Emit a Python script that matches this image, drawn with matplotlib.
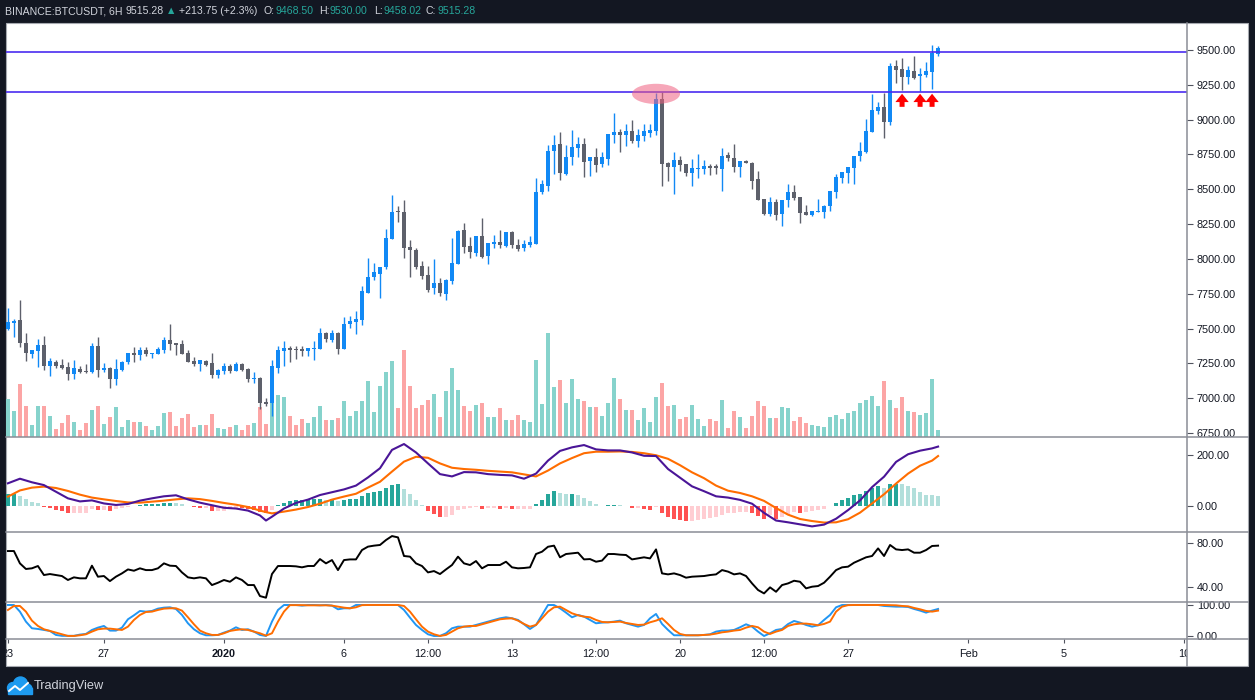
import numpy as np
import matplotlib.pyplot as plt
from matplotlib.patches import Rectangle, Ellipse, Circle

plt.rcParams['font.family'] = ['Liberation Sans', 'DejaVu Sans']

# ---- BINANCE:BTCUSDT 6H candles, Dec 23 2019 00:00 -> Jan 30 2020 18:00 ----
day0 = -9          # first bar, in days from Jan 1 2020
bar_days = 0.25    # 6H

opens = [
    7498, 7541, 7560, 7398, 7319, 7340, 7381, 7232, 7259, 7237,
    7223, 7170, 7208, 7194, 7187, 7374, 7204, 7216, 7139, 7201,
    7256, 7323, 7309, 7345, 7319, 7319, 7347, 7417, 7395, 7388,
    7323, 7268, 7244, 7268, 7251, 7168, 7196, 7230, 7194, 7244,
    7208, 7139, 7144, 6971, 6964, 7218, 7338, 7359, 7352, 7352,
    7338, 7352, 7352, 7467, 7417, 7467, 7352, 7532, 7546, 7563,
    7757, 7871, 7893, 7939, 8140, 8343, 8336, 8085, 8063, 7948,
    7883, 7790, 7826, 7750, 7843, 7965, 8207, 8092, 8044, 8164,
    8023, 8109, 8121, 8094, 8193, 8102, 8078, 8102, 8109, 8480,
    8523, 8775, 8825, 8609, 8731, 8796, 8825, 8703, 8731, 8681,
    8717, 8890, 8911, 8890, 8918, 8846, 8882, 8904, 8918, 9150,
    8691, 8662, 8710, 8681, 8617, 8645, 8645, 8667, 8667, 8645,
    8746, 8724, 8660, 8703, 8691, 8573, 8430, 8322, 8408, 8322,
    8422, 8480, 8444, 8336, 8315, 8336, 8336, 8379, 8480, 8583,
    8619, 8655, 8738, 8767, 8911, 9062, 9091, 8983, 9385, 9364,
    9308, 9349, 9311, 9320, 9344, 9468.50]
highs = [
    7650, 7568, 7704, 7469, 7345, 7424, 7448, 7285, 7273, 7280,
    7259, 7273, 7228, 7244, 7398, 7441, 7251, 7225, 7280, 7266,
    7323, 7369, 7369, 7369, 7323, 7369, 7438, 7534, 7395, 7417,
    7347, 7297, 7273, 7273, 7326, 7206, 7251, 7244, 7259, 7251,
    7216, 7187, 7151, 7000, 7273, 7374, 7410, 7374, 7374, 7374,
    7359, 7410, 7503, 7474, 7489, 7474, 7582, 7589, 7625, 7804,
    8003, 7969, 7939, 8213, 8458, 8379, 8422, 8135, 8075, 7984,
    7948, 7999, 7861, 7857, 8150, 8207, 8257, 8157, 8164, 8293,
    8114, 8171, 8207, 8193, 8200, 8142, 8135, 8164, 8581, 8564,
    8818, 8890, 8911, 8818, 8925, 8875, 8868, 8731, 8796, 8767,
    8897, 9048, 8933, 8969, 8997, 8933, 8969, 8969, 9190, 9195,
    8698, 8767, 8739, 8681, 8717, 8753, 8710, 8681, 8681, 8796,
    8767, 8825, 8703, 8710, 8696, 8631, 8430, 8444, 8430, 8422,
    8537, 8530, 8444, 8387, 8343, 8430, 8387, 8487, 8609, 8624,
    8659, 8738, 8839, 9004, 9184, 9126, 9191, 9404, 9428, 9440,
    9385, 9457, 9371, 9414, 9536, 9530.00]
lows = [
    7490, 7441, 7364, 7268, 7285, 7225, 7201, 7160, 7213, 7208,
    7127, 7134, 7182, 7182, 7182, 7153, 7187, 7074, 7096, 7194,
    7244, 7259, 7273, 7302, 7287, 7316, 7321, 7347, 7311, 7316,
    7259, 7230, 7194, 7230, 7144, 7144, 7172, 7180, 7194, 7194,
    7115, 7110, 6921, 6943, 6871, 7180, 7230, 7261, 7280, 7302,
    7302, 7273, 7352, 7402, 7402, 7316, 7352, 7503, 7460, 7524,
    7757, 7847, 7719, 7926, 8140, 8264, 8006, 7870, 7931, 7857,
    7765, 7746, 7737, 7706, 7819, 7965, 8044, 8008, 8023, 8008,
    7965, 8080, 8080, 8087, 8080, 8059, 8059, 8087, 8109, 8468,
    8487, 8612, 8566, 8602, 8674, 8731, 8588, 8595, 8626, 8660,
    8674, 8832, 8767, 8810, 8832, 8803, 8846, 8875, 8890, 8523,
    8559, 8466, 8631, 8595, 8523, 8581, 8609, 8602, 8609, 8487,
    8703, 8624, 8588, 8688, 8502, 8422, 8315, 8308, 8279, 8236,
    8372, 8422, 8257, 8315, 8305, 8336, 8293, 8343, 8437, 8545,
    8547, 8537, 8705, 8760, 8911, 9040, 8868, 8961, 9265, 9213,
    9258, 9294, 9208, 9309, 9222, 9458.02]
closes = [
    7546, 7553, 7393, 7321, 7345, 7381, 7232, 7266, 7232, 7218,
    7170, 7216, 7187, 7187, 7374, 7204, 7216, 7139, 7208, 7259,
    7323, 7309, 7345, 7316, 7323, 7352, 7417, 7388, 7383, 7319,
    7261, 7244, 7273, 7237, 7168, 7201, 7230, 7194, 7244, 7201,
    7139, 7144, 6964, 6957, 7230, 7345, 7359, 7345, 7345, 7338,
    7359, 7359, 7467, 7424, 7467, 7352, 7532, 7553, 7568, 7768,
    7869, 7905, 7939, 8147, 8336, 8338, 8080, 8061, 7943, 7879,
    7780, 7826, 7752, 7848, 7970, 8200, 8087, 8049, 8164, 8015,
    8114, 8121, 8102, 8193, 8102, 8073, 8106, 8121, 8480, 8537,
    8775, 8818, 8617, 8731, 8803, 8825, 8696, 8731, 8674, 8731,
    8897, 8911, 8890, 8918, 8846, 8890, 8918, 8925, 9150, 8684,
    8662, 8710, 8674, 8617, 8652, 8652, 8667, 8652, 8652, 8739,
    8724, 8660, 8703, 8688, 8559, 8422, 8322, 8408, 8315, 8422,
    8480, 8437, 8329, 8315, 8343, 8343, 8379, 8487, 8588, 8624,
    8659, 8738, 8774, 8918, 9069, 9091, 8983, 9385, 9356, 9308,
    9356, 9301, 9328, 9349, 9481, 9515.28]
volume = [
    38, 26, 53, 31, 12, 31, 31, 21, 8, 14,
    22, 15, 7, 14, 27, 31, 13, 20, 30, 10,
    17, 15, 15, 11, 7, 11, 24, 25, 11, 19,
    23, 10, 12, 12, 23, 9, 8, 10, 12, 7,
    12, 14, 30, 13, 45, 42, 40, 21, 12, 18,
    14, 20, 31, 17, 17, 19, 36, 21, 26, 36,
    56, 25, 51, 65, 76, 29, 87, 51, 29, 32,
    37, 43, 20, 46, 69, 47, 31, 26, 32, 34,
    20, 20, 29, 17, 17, 22, 17, 15, 77, 33,
    104, 50, 57, 34, 58, 38, 36, 30, 30, 21,
    34, 59, 38, 27, 27, 17, 29, 15, 40, 54,
    31, 32, 18, 20, 32, 18, 11, 18, 16, 37,
    9, 26, 20, 9, 21, 36, 31, 19, 19, 30,
    29, 16, 20, 14, 12, 11, 10, 20, 22, 18,
    24, 26, 34, 37, 41, 31, 56, 37, 29, 40,
    26, 25, 22, 24, 58, 7]

# horizontal levels and marks drawn by the author
levels = [9485, 9200]
highlight_bar = 108
arrow_bars = [149, 152, 154]

# ---- MACD ----
macd_idx = [0, 2, 4, 6, 8, 10, 12, 14, 16, 18, 20, 22,
            24, 26, 28, 30, 32, 34, 36, 38, 40, 42, 43,
            44, 46, 48, 50, 52, 54, 56, 58, 60, 62, 64, 66, 68, 70, 72, 74, 76, 78, 80, 82,
            84, 86, 88, 90, 92, 94, 96, 98,
            100, 102, 104, 106, 108, 110, 112, 114, 116, 118, 120, 122, 124, 126, 128, 130,
            132, 134, 136, 138,
            140, 142, 144, 146, 148, 150, 152, 154, 155]
macd_line = [89, 107, 93, 82, 56, 30, 18, 22, 10, 4, 8, 21,
             30, 38, 42, 26, 13, 3, -7, -10, -18, -37, -57,
             -42, -10, 12, 25, 43, 54, 65, 80, 112, 148, 220, 243, 210, 167, 125, 116, 133, 132,
             125, 122,
             120, 107, 127, 178, 216, 230, 239, 222,
             218, 218, 210, 197, 196, 145, 111, 77, 58, 38, 33, 24, 9, -27, -57, -64,
             -72, -80, -73, -50,
             -16, 22, 74, 115, 173, 203, 217, 226, 233]
macd_signal = [36.6, 61, 72, 76, 70.6, 59, 44.5, 33, 26, 19.6, 14, 13,
               17, 21, 26, 30, 27, 20, 12, 5, -4, -18, -24,
               -29, -22, -14, -4, 9, 25, 37, 48, 72, 95, 135, 174, 193, 189, 167, 150, 145, 142,
               138, 135,
               132, 124, 116, 139, 167, 188, 207, 213,
               213, 214, 212, 207, 199, 185, 160, 132, 109, 80, 60, 51, 38, 20, -8, -34,
               -51, -59, -65, -64,
               -52, -26, 10, 46, 88, 127, 158, 178, 196]
macd_hist = [
    47, 47, 39, 27, 16, 12, -4, -7, -16, -20,
    -27, -27, -27, -26, -12, -16, -16, -20, -12, -9,
    -4, -1, 4, 8, 8, 8, 12, 12, 11, 8,
    1, -4, -8, -8, -20, -20, -19, -10, -6, -8,
    -12, -16, -24, -27, -16, 2, 12, 20, 24, 24,
    24, 26, 27, 25, 27, 20, 23, 27, 27, 39,
    51, 55, 59, 71, 82, 86, 67, 47, 24, 2,
    -20, -31, -43, -43, -35, -16, -12, -9, -4, -12,
    -7, -7, -12, -8, -12, -12, -12, -12, 7, 24,
    46, 59, 51, 47, 47, 43, 31, 20, 8, -1,
    4, 4, 3, -1, -8, -8, -10, -14, -3, -27,
    -43, -50, -55, -58, -57, -55, -51, -47, -44, -35,
    -27, -26, -25, -24, -27, -38, -51, -37, -51, -43,
    -37, -25, -28, -24, -20, -17, -10, -1, 10, 24,
    33, 43, 47, 59, 69, 80, 72, 85, 88, 85,
    80, 69, 54, 43, 42, 40]

# ---- RSI ----
rsi = [
    72.7, 72.7, 61.5, 56.4, 57.0, 59.1, 50.9, 51.8, 50.9, 50.0,
    46.4, 48.8, 47.9, 47.9, 59.4, 49.4, 50.0, 45.4, 49.4, 52.4,
    56.0, 54.8, 57.0, 55.4, 55.4, 57.0, 61.5, 59.4, 59.1, 53.3,
    48.8, 47.9, 48.8, 47.9, 41.8, 43.9, 46.4, 44.8, 48.8, 46.4,
    41.8, 41.8, 31.8, 30.3, 51.8, 59.1, 59.1, 59.1, 58.8, 57.9,
    59.1, 59.1, 65.4, 61.5, 64.5, 55.4, 64.5, 65.1, 65.1, 73.6,
    76.7, 77.6, 78.2, 82.7, 86.3, 85.1, 68.2, 67.6, 61.5, 59.1,
    53.3, 54.5, 51.8, 56.0, 60.0, 67.6, 61.5, 60.0, 63.6, 57.0,
    60.0, 60.0, 60.0, 63.0, 57.9, 57.0, 57.3, 57.9, 70.0, 72.1,
    76.6, 77.6, 67.0, 70.0, 70.6, 71.2, 65.1, 65.4, 63.0, 64.0,
    70.0, 70.0, 69.4, 69.1, 65.1, 66.0, 67.0, 66.0, 74.2, 52.4,
    51.5, 52.4, 50.9, 48.5, 49.4, 49.7, 50.0, 50.9, 51.5, 55.4,
    54.0, 51.5, 52.4, 50.0, 43.3, 37.3, 34.2, 39.7, 35.7, 41.8,
    43.3, 45.7, 44.8, 38.8, 40.3, 40.9, 43.9, 49.4, 55.4, 57.9,
    58.5, 62.1, 64.5, 67.0, 68.2, 75.1, 68.2, 78.2, 74.2, 73.6,
    74.2, 71.2, 71.2, 73.6, 77.3, 77.6]

# ---- Stochastic ----
stoch_k = [
    100, 100, 78.6, 46.4, 24.9, 22.7, 19.5, 16.3, 3.4, 0.5,
    0.5, 0.5, 4.5, 6.6, 19.5, 27.0, 32.4, 17.4, 17.4, 27.0,
    53.9, 66.8, 80.8, 78.6, 80.8, 88.3, 91.5, 92.6, 87.2, 67.9,
    41.0, 21.7, 8.8, 2.3, 2.3, 3.4, 10.9, 17.4, 28.1, 19.5,
    21.7, 14.1, 3.4, 0.0, 46.4, 84.0, 100, 100, 100, 98.0,
    100, 100, 99.0, 100, 98.0, 86.2, 89.4, 89.4, 100, 100,
    100, 100, 100, 100, 100, 100, 84.0, 59.3, 35.6, 19.5,
    5.5, 0.0, 0.2, 8.8, 24.9, 30.2, 30.2, 30.2, 35.6, 41.0,
    46.4, 51.8, 57.1, 60.4, 57.1, 51.8, 37.8, 22.7, 35.6, 67.9,
    100, 100, 89.4, 75.4, 60.4, 67.9, 62.5, 51.8, 41.0, 43.2,
    44.2, 46.4, 49.6, 41.0, 35.6, 30.2, 35.6, 57.1, 71.1, 38.9,
    19.5, 2.3, 2.3, 2.3, 2.3, 2.3, 3.4, 5.5, 14.1, 17.4,
    17.4, 19.5, 28.1, 37.8, 30.2, 14.1, 0.0, 8.8, 19.5, 22.7,
    38.5, 48.5, 43.2, 35.6, 30.2, 34.6, 51.8, 67.9, 92.6, 100,
    100, 100, 100, 100, 100, 100, 96.9, 95.8, 94.7, 94.7,
    93.7, 87.2, 81.9, 75.4, 81.9, 87.2]
stoch_d = [
    84.0, 96.9, 96.9, 78.6, 49.6, 32.4, 21.7, 16.3, 10.9, 5.5,
    0.2, 0.2, 2.3, 5.5, 14.1, 21.7, 23.8, 23.8, 21.7, 19.5,
    30.2, 51.8, 67.9, 77.5, 78.6, 84.0, 88.3, 89.4, 89.4, 81.9,
    60.4, 37.8, 17.4, 8.8, 3.4, 3.4, 8.8, 16.3, 19.5, 21.7,
    19.5, 14.1, 8.8, 1.2, 8.8, 46.4, 78.6, 99.6, 99.6, 99.6,
    99.0, 99.0, 99.0, 99.0, 98.0, 94.7, 91.5, 89.4, 92.6, 99.6,
    100, 100, 100, 100, 100, 100, 96.9, 78.6, 53.9, 30.2,
    14.1, 5.5, 0.2, 3.4, 14.1, 24.9, 30.2, 32.4, 32.4, 37.8,
    43.1, 48.5, 53.9, 56.0, 57.1, 49.6, 38.9, 30.2, 35.6, 57.1,
    78.6, 92.6, 94.7, 84.0, 73.2, 66.8, 62.5, 60.4, 51.8, 45.3,
    44.2, 45.3, 46.4, 42.1, 38.9, 35.6, 36.7, 44.2, 49.6, 57.1,
    38.9, 19.5, 6.6, 2.3, 2.3, 2.3, 3.4, 4.5, 7.7, 11.9,
    14.1, 17.4, 19.5, 27.0, 32.4, 28.1, 14.1, 6.6, 14.1, 19.5,
    32.4, 37.8, 40.0, 40.0, 37.8, 34.6, 38.9, 46.4, 78.6, 94.7,
    99.6, 100, 100, 100, 100, 100, 100, 99.6, 99.0, 96.9,
    95.8, 90.5, 86.2, 80.8, 78.6, 81.9]

# ---- axis ticks ----
price_ticks = [6750, 7000, 7250, 7500, 7750, 8000, 8250, 8500, 8750, 9000, 9250, 9500]
macd_ticks = [0, 200]
rsi_ticks = [40, 80]
stoch_ticks = [0, 100]
time_tick_days = [-9, -5, 0, 5, 8.5, 12, 15.5, 19, 22.5, 26, 31, 35, 40]
time_tick_labels = ['23', '27', '2020', '6', '12:00', '13', '12:00', '20', '12:00', '27',
                    'Feb', '5', '10']

header = [(5, 'BINANCE:BTCUSDT, 6H', '#d1d4dc'), (125, '9515.28', '#d1d4dc'),
          (166, '\u25b2', '#26a69a'), (179, '+213.75 (+2.3%)', '#d1d4dc'),
          (263, 'O:', '#d1d4dc'), (275, '9468.50', '#26a69a'),
          (319, 'H:', '#d1d4dc'), (330, '9530.00', '#26a69a'),
          (374, 'L:', '#d1d4dc'), (383, '9458.02', '#26a69a'),
          (426, 'C:', '#d1d4dc'), (437, '9515.28', '#26a69a')]

# ---------------------------------------------------------------
o = np.array(opens)
h = np.array(highs)
l = np.array(lows)
c = np.array(closes)
vol = np.array(volume)
n = len(c)
t = day0 + np.arange(n) * bar_days
up = c >= o
macd_t = day0 + np.array(macd_idx) * bar_days

UP, DOWN = '#1189f5', '#5d606b'
W, H = 1255, 700
XL = (-9.08, 40.12)
TXT = '#131722'
TICK = '#50535e'

fig = plt.figure(figsize=(W / 100, H / 100), dpi=100, facecolor='#131722')


def px_axes(x0, y0, x1, y1, z=1):
    a = fig.add_axes([x0 / W, 1 - y1 / H, (x1 - x0) / W, (y1 - y0) / H], zorder=z)
    a.patch.set_visible(False)
    for s in a.spines.values():
        s.set_visible(False)
    a.set_xlim(*XL)
    a.set_xticks([])
    return a


def right_ticks(a, ticks):
    a.yaxis.tick_right()
    a.set_yticks(ticks)
    a.set_yticklabels(['%.2f' % v for v in ticks])
    a.tick_params(axis='y', length=4, width=0.8, color=TICK, labelsize=7.8,
                  labelcolor=TXT, pad=3)


# background
bg = fig.add_axes([0, 0, 1, 1], zorder=-1)
bg.set_xlim(0, W)
bg.set_ylim(H, 0)
bg.axis('off')
bg.add_patch(Rectangle((6, 23), 1242, 643, facecolor='white', edgecolor='#a6a9b0', lw=0.8))

# volume (behind candles)
axv = px_axes(6, 23, 1187, 437, z=1)
axv.bar(t, vol, width=0.2, color=np.where(up, '#86d3cc', '#fca5a5'), linewidth=0)
axv.set_ylim(0, vol.max() * 3.98)
axv.set_yticks([])

# price candles
ax = px_axes(6, 23, 1187, 437, z=2)
col = np.where(up, UP, DOWN)
ax.vlines(t, l, h, colors=col, lw=1.0, zorder=3)
ax.bar(t, np.maximum(np.abs(c - o), 6), bottom=np.minimum(o, c), width=0.195,
       color=col, linewidth=0, zorder=4)
for lv in levels:
    ax.axhline(lv, color='#4a2cf0', lw=1.2, zorder=5)
ax.add_patch(Ellipse((t[highlight_bar], h[highlight_bar + 1] - 10), width=2.0, height=145,
                     facecolor='#f06080', alpha=0.55, edgecolor='none', zorder=6))
for i in arrow_bars:
    ax.annotate('', xy=(t[i], levels[1] - 14), xytext=(t[i], levels[1] - 108),
                arrowprops=dict(arrowstyle='simple,head_length=0.5,head_width=0.8,tail_width=0.3',
                                color='#ff0000', lw=0, mutation_scale=12,
                                shrinkA=0, shrinkB=0), zorder=7)
ax.set_ylim(6721, 9694)
right_ticks(ax, price_ticks)

# MACD
axm = px_axes(6, 437, 1187, 532, z=2)
hist = np.array(macd_hist)
prev = np.concatenate([[hist[0]], hist[:-1]])
hcol = np.where(hist >= 0, np.where(hist >= prev, '#26a69a', '#b2dfdb'),
                np.where(hist < prev, '#ff5252', '#ffcdd2'))
axm.bar(t, hist, width=0.2, color=hcol, linewidth=0)
axm.plot(macd_t, macd_signal, color='#ff6d00', lw=1.5)
axm.plot(macd_t, macd_line, color='#4a1597', lw=1.5)
axm.set_ylim(-102, 270.6)
right_ticks(axm, macd_ticks)

# RSI
axr = px_axes(6, 532, 1187, 602, z=2)
axr.plot(t, rsi, color='black', lw=1.4)
axr.set_ylim(26.4, 90)
right_ticks(axr, rsi_ticks)

# Stochastic
axs = px_axes(6, 602, 1187, 639, z=2)
axs.plot(t, stoch_k, color='#2196f3', lw=1.4)
axs.plot(t, stoch_d, color='#ff6d00', lw=1.4)
axs.set_ylim(-9.7, 109.7)
right_ticks(axs, stoch_ticks)

# time axis
axt = px_axes(6, 639, 1187, 666, z=2)
axt.set_ylim(0, 1)
axt.set_yticks([])
axt.vlines(time_tick_days, 0.86, 1.0, color=TICK, lw=0.8)
for d, lab in zip(time_tick_days, time_tick_labels):
    axt.text(d, 0.44, lab, ha='center', va='center', fontsize=7.8, color=TXT,
             fontweight='bold' if lab == '2020' else 'normal', clip_on=True)

# overlay: separators, header, logo
ov = fig.add_axes([0, 0, 1, 1], zorder=10)
ov.set_xlim(0, W)
ov.set_ylim(H, 0)
ov.axis('off')
for y in [437, 532, 602, 639]:
    ov.plot([6, 1248], [y, y], color='#8a8d96', lw=1.1)
ov.plot([1187, 1187], [23, 666], color='#8a8d96', lw=1.1)

for x, s, colr in header:
    ov.text(x, 11, s, color=colr, fontsize=7.6, va='center', ha='left')

logo = '#1e9bf0'
for cx, cy, r in [(13, 688, 5.5), (20.5, 684, 7), (27, 689, 5)]:
    ov.add_patch(Circle((cx, cy), r, color=logo))
ov.add_patch(Rectangle((8, 688), 24, 5.5, color=logo))
ov.plot([9, 15, 20, 28], [691, 686, 690, 683], color='white', lw=1.4)
ov.text(34, 686, 'TradingView', color='#d1d4dc', fontsize=9.2, va='center', ha='left')

fig.savefig('out.png', dpi=100, facecolor=fig.get_facecolor())
